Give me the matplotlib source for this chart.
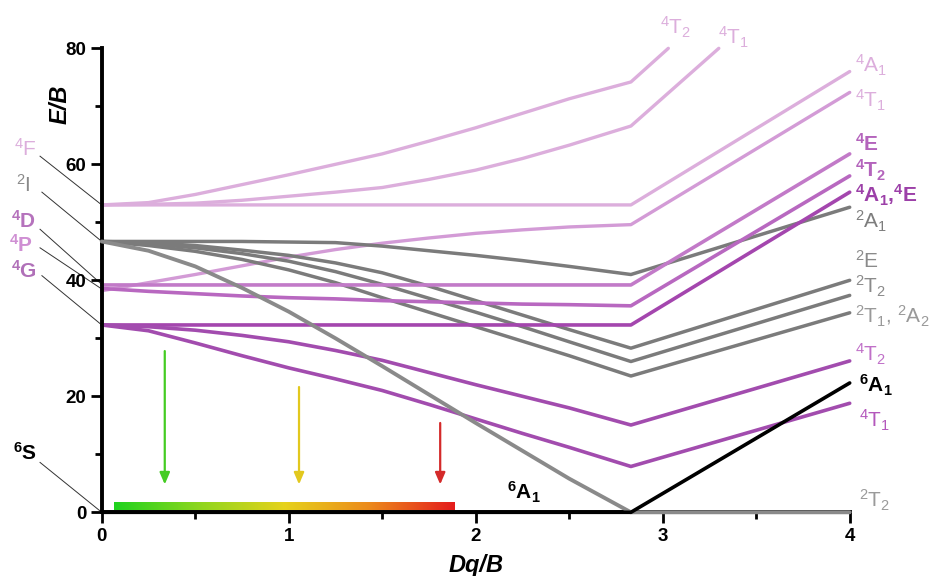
import matplotlib
matplotlib.use("Agg")
import matplotlib.pyplot as plt
import numpy as np
from matplotlib.colors import LinearSegmentedColormap

plt.rcParams['font.family'] = ['Liberation Sans', 'DejaVu Sans']
plt.rcParams['mathtext.fontset'] = 'custom'
plt.rcParams['mathtext.rm'] = 'Liberation Sans'
plt.rcParams['mathtext.it'] = 'Liberation Sans:italic'
plt.rcParams['mathtext.bf'] = 'Liberation Sans:bold'

# ---------------- data ----------------
X = [0, 0.25, 0.5, 0.75, 1.0, 1.25, 1.5, 1.75, 2.0, 2.25, 2.5, 2.83, 4.0]

# light pink (4F-derived and 4T1)
t2_4F_x = [0, 0.25, 0.5, 0.75, 1.0, 1.25, 1.5, 1.75, 2.0, 2.25, 2.5, 2.83, 3.03]
t2_4F = [53.0, 53.4, 54.8, 56.5, 58.2, 60.0, 61.8, 64.0, 66.3, 68.8, 71.3, 74.2, 80.0]
t1_4F_x = [0, 0.25, 0.5, 0.75, 1.0, 1.25, 1.5, 1.75, 2.0, 2.25, 2.5, 2.83, 3.30]
t1_4F = [53.0, 53.1, 53.3, 53.8, 54.5, 55.2, 56.0, 57.4, 59.0, 61.0, 63.3, 66.6, 80.0]
a1_4F = [53.0, 53.0, 53.0, 53.0, 53.0, 53.0, 53.0, 53.0, 53.0, 53.0, 53.0, 53.0, 76.0]
t1_pink = [38.2, 39.6, 41.0, 42.5, 44.0, 45.3, 46.4, 47.3, 48.1, 48.7, 49.2, 49.6, 72.4]

# gray doublets
a1_2 = [46.7, 46.7, 46.7, 46.7, 46.6, 46.5, 45.9, 45.1, 44.3, 43.4, 42.4, 41.0, 52.6]
e_2 = [46.7, 46.5, 46.0, 45.2, 44.3, 43.0, 41.3, 39.0, 36.5, 34.0, 31.5, 28.3, 40.0]
t2_2 = [46.7, 46.3, 45.6, 44.6, 43.3, 41.5, 39.3, 36.9, 34.5, 32.0, 29.4, 26.0, 37.4]
t1_2 = [46.7, 46.0, 45.0, 43.6, 41.8, 39.6, 37.0, 34.5, 32.0, 29.5, 27.0, 23.5, 34.4]
t2_ground = [46.7, 45.1, 42.4, 38.7, 34.6, 30.0, 25.2, 20.3, 15.4, 10.6, 5.8, 0.0, 0.0]

# purple quartets
e_4 = [39.2] * 12 + [61.8]
t2_4up = [38.6, 38.1, 37.7, 37.3, 37.0, 36.8, 36.5, 36.3, 36.1, 35.9, 35.8, 35.6, 58.0]
a1e_4 = [32.3] * 12 + [55.2]
t2_4low = [32.3, 32.0, 31.4, 30.5, 29.4, 27.9, 26.2, 24.1, 22.0, 20.0, 18.0, 15.05, 26.1]
t1_4low = [32.3, 31.3, 29.2, 27.0, 24.9, 23.0, 21.0, 18.6, 16.1, 13.6, 11.2, 7.9, 18.8]

# sextet ground state
a1_6_x = [0, 2.83, 4.0]
a1_6 = [0.0, 0.0, 22.3]

# arrows (x, y_start, y_end)
arrow_x = [0.337, 1.055, 1.81]
arrow_y0 = [27.8, 21.6, 15.4]
arrow_y1 = [4.8, 4.8, 4.8]
arrow_col = ['#44cc22', '#e2c81e', '#d42a2a']

# ---------------- figure ----------------
fig = plt.figure(figsize=(9.36, 5.76), dpi=100)
ax = fig.add_axes([0.1087, 0.1106, 0.7991, 0.8055])
ax.set_xlim(0, 4)
ax.set_ylim(0, 80)

LP = '#dcaedc'
LP2 = '#d39bd6'
GR = '#7b7b7b'
P1 = '#c27ac8'
P2 = '#b868c0'
P3 = '#a446ae'
P4 = '#a24cae'

kw = dict(solid_capstyle='round', clip_on=False)
ax.plot(t2_4F_x, t2_4F, color=LP, lw=2.4, **kw)
ax.plot(t1_4F_x, t1_4F, color=LP, lw=2.4, **kw)
ax.plot(X, a1_4F, color=LP, lw=2.4, **kw)
ax.plot(X, t1_pink, color=LP2, lw=2.4, **kw)

for s in (a1_2, e_2, t2_2, t1_2):
    ax.plot(X, s, color=GR, lw=2.5, **kw)

ax.plot(X, e_4, color=P1, lw=2.6, **kw)
ax.plot(X, t2_4up, color=P2, lw=2.6, **kw)
ax.plot(X, a1e_4, color=P3, lw=2.6, **kw)
ax.plot(X, t2_4low, color=P4, lw=2.6, **kw)
ax.plot(X, t1_4low, color=P4, lw=2.6, **kw)
ax.plot(X, t2_ground, color='#8a8a8a', lw=2.8, zorder=3, **kw)
ax.plot(a1_6_x, a1_6, color='black', lw=2.6, zorder=4, **kw)

# gradient bar
cmap = LinearSegmentedColormap.from_list('gyr', ['#1fd21f', '#8ed61e', '#e6d21c', '#ec8a1c', '#e41c1c'])
grad = np.linspace(0, 1, 256).reshape(1, -1)
ax.imshow(grad, cmap=cmap, aspect='auto', extent=[0.065, 1.885, 0.35, 1.6], zorder=2)

for x, y0, y1, c in zip(arrow_x, arrow_y0, arrow_y1, arrow_col):
    ax.annotate('', xy=(x, y1), xytext=(x, y0),
                arrowprops=dict(arrowstyle='-|>,head_length=0.7,head_width=0.3', color=c, lw=1.6,
                                shrinkA=0, shrinkB=0))

# axes styling
for sp in ('top', 'right'):
    ax.spines[sp].set_visible(False)
ax.spines['left'].set_linewidth(2.8)
ax.spines['bottom'].set_linewidth(2.8)
ax.set_xticks([0, 1, 2, 3, 4])
ax.set_xticks([0.5, 1.5, 2.5, 3.5], minor=True)
ax.set_yticks([0, 20, 40, 60, 80])
ax.set_yticks([10, 30, 50, 70], minor=True)
ax.tick_params(which='major', direction='out', length=8, width=2, labelsize=13.5, pad=3)
ax.tick_params(which='minor', direction='out', length=5, width=2)
for lab in ax.get_xticklabels() + ax.get_yticklabels():
    lab.set_fontweight('bold')

ax.text(-0.056, 0.88, 'E/B', transform=ax.transAxes, rotation=90, fontsize=17,
        fontweight='bold', fontstyle='italic', ha='center', va='center')
ax.text(0.5, -0.114, 'Dq/B', transform=ax.transAxes, fontsize=17,
        fontweight='bold', fontstyle='italic', ha='center', va='center')


def term(sup, main, sub=None, bold=False):
    if bold:
        s = r'$^{\mathbf{%s}}$' % sup + main
        if sub:
            s += r'$_{\mathbf{%s}}$' % sub
    else:
        s = r'$^{%s}$' % sup + main
        if sub:
            s += r'$_{%s}$' % sub
    return s


FS = 15

# left free-ion labels: text, x, y, color, bold, leader start, leader end E
left_labels = [
    (term('4', 'F'), -0.41, 62.6, LP, False, (-0.33, 61.4), 53.0),
    (term('2', 'I'), -0.42, 56.4, '#8a8a8a', False, (-0.32, 55.2), 46.7),
    (term('4', 'D', bold=True), -0.42, 50.2, '#b572bc', True, (-0.33, 48.8), 39.3),
    (term('4', 'P', bold=True), -0.43, 46.2, '#cf8fd3', True, (-0.33, 45.6), 38.5),
    (term('4', 'G', bold=True), -0.415, 41.6, '#b070b8', True, (-0.32, 40.8), 32.3),
    (term('6', 'S', bold=True), -0.41, 10.2, 'black', True, (-0.33, 8.6), 0.0),
]
for txt, x, y, c, b, (lx, ly), e in left_labels:
    ax.text(x, y, txt, color=c, fontsize=FS, fontweight='bold' if b else 'normal',
            ha='center', va='center', clip_on=False)
    ax.plot([lx, 0], [ly, e], color='#333333', lw=0.7, clip_on=False, zorder=1)

right_labels = [
    (term('4', 'T', '2'), 3.07, 83.6, LP, False, 'center'),
    (term('4', 'T', '1'), 3.38, 81.8, LP, False, 'center'),
    (term('4', 'A', '1'), 4.03, 77.0, LP, False, 'left'),
    (term('4', 'T', '1'), 4.03, 71.1, LP, False, 'left'),
    (term('4', 'E', bold=True), 4.03, 63.5, '#b464bc', True, 'left'),
    (term('4', 'T', '2', bold=True), 4.03, 59.0, '#b464bc', True, 'left'),
    (term('4', 'A', '1', bold=True) + ',' + term('4', 'E', bold=True), 4.03, 54.6, '#9c40a8', True, 'left'),
    (term('2', 'A', '1'), 4.03, 50.2, '#7d7d7d', False, 'left'),
    (term('2', 'E'), 4.03, 43.4, '#8a8a8a', False, 'left'),
    (term('2', 'T', '2'), 4.03, 38.9, '#8a8a8a', False, 'left'),
    (term('2', 'T', '1') + ', ' + term('2', 'A', '2'), 4.03, 33.8, '#999999', False, 'left'),
    (term('4', 'T', '2'), 4.03, 27.3, '#c070c8', False, 'left'),
    (term('6', 'A', '1', bold=True), 4.05, 21.8, 'black', True, 'left'),
    (term('4', 'T', '1'), 4.05, 15.9, '#b458bc', False, 'left'),
    (term('2', 'T', '2'), 4.05, 2.1, '#9a9a9a', False, 'left'),
    (term('6', 'A', '1', bold=True), 2.26, 3.5, 'black', True, 'center'),
]
for txt, x, y, c, b, ha in right_labels:
    ax.text(x, y, txt, color=c, fontsize=FS, fontweight='bold' if b else 'normal',
            ha=ha, va='center', clip_on=False)

fig.savefig('out.png', dpi=100)
